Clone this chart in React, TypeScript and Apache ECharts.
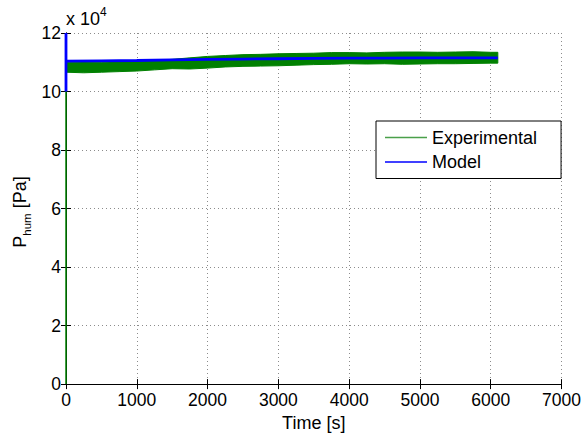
import React, { useEffect, useRef } from "react";
import * as echarts from "echarts";

// Time axis ticks [s]
const timeTicks = [0, 1000, 2000, 3000, 4000, 5000, 6000, 7000];
// Pressure ticks [x 10^4 Pa]
const pressureTicks = [0, 2, 4, 6, 8, 10, 12];

// Experimental signal envelope (x 10^4 Pa)
const expTime = [0, 250, 500, 750, 1000, 1250, 1500, 1750, 2000, 2250, 2500, 2750, 3000, 3250, 3500, 3750, 4000, 4250, 4500, 4750, 5000, 5250, 5500, 5750, 6000, 6100];
const expLow = [10.66, 10.64, 10.66, 10.68, 10.70, 10.74, 10.78, 10.77, 10.80, 10.84, 10.86, 10.87, 10.88, 10.90, 10.92, 10.93, 10.95, 10.94, 10.95, 10.93, 10.94, 10.95, 10.95, 10.96, 10.97, 10.97];
const expHigh = [11.00, 11.01, 11.00, 11.02, 11.03, 11.06, 11.10, 11.15, 11.20, 11.23, 11.26, 11.27, 11.29, 11.30, 11.31, 11.33, 11.33, 11.32, 11.34, 11.35, 11.35, 11.34, 11.35, 11.36, 11.34, 11.34];
// Experimental start-up from 0 Pa at t = 0
const expStartTime = [0, 0];
const expStartValue = [0, 10.8];

// Model output (x 10^4 Pa)
const modelTime = [0, 0, 0, 500, 1000, 1500, 2000, 2500, 3000, 3500, 4000, 4500, 5000, 5500, 6100];
const modelValue = [10.0, 12.0, 11.04, 11.05, 11.06, 11.08, 11.10, 11.11, 11.12, 11.13, 11.14, 11.14, 11.15, 11.15, 11.15];

const FONT = "'Liberation Sans', Arial, Helvetica, sans-serif";

export default function App() {
  const ref = useRef<HTMLDivElement>(null);

  useEffect(() => {
    if (!ref.current) return;
    const chart = echarts.init(ref.current, undefined, { renderer: "svg" });

    const bandData = expTime.map((t, i) => [t, expLow[i], expHigh[i]]);

    const gridLine = { show: true, lineStyle: { color: "#8c8c8c", type: [1, 3] as any, width: 1 } };
    const axisLine = { show: true, lineStyle: { color: "#000", width: 1 } };
    const tick = { show: true, inside: true, length: 5, lineStyle: { color: "#000" } };

    chart.setOption({
      animation: false,
      backgroundColor: "#fff",
      textStyle: { fontFamily: FONT },
      grid: { left: 66, top: 33, right: 21, bottom: 50, containLabel: false },
      xAxis: [
        {
          type: "value",
          min: timeTicks[0],
          max: timeTicks[timeTicks.length - 1],
          interval: 1000,
          axisLine,
          axisTick: tick,
          splitLine: gridLine,
          axisLabel: {
            color: "#000",
            fontSize: 17.5,
            margin: 7,
            fontFamily: FONT,
            formatter: (v: number) => String(v),
          },
          name: "Time [s]",
          nameLocation: "middle",
          nameGap: 27,
          nameTextStyle: { color: "#000", fontSize: 18, fontFamily: FONT, fontWeight: "normal" },
        },
        {
          type: "value",
          position: "top",
          min: 0,
          max: 7000,
          interval: 1000,
          axisLine,
          axisTick: tick,
          splitLine: { show: false },
          axisLabel: { show: false },
        },
      ],
      yAxis: [
        {
          type: "value",
          min: pressureTicks[0],
          max: pressureTicks[pressureTicks.length - 1],
          interval: 2,
          axisLine,
          axisTick: tick,
          splitLine: gridLine,
          axisLabel: {
            color: "#000",
            fontSize: 17.5,
            margin: 5,
            fontFamily: FONT,
            formatter: (v: number) => String(v),
          },
        },
        {
          type: "value",
          position: "right",
          min: 0,
          max: 12,
          interval: 2,
          axisLine,
          axisTick: tick,
          splitLine: { show: false },
          axisLabel: { show: false },
        },
      ],
      legend: {
        orient: "vertical",
        left: 376,
        top: 121,
        backgroundColor: "#fff",
        borderColor: "#000",
        borderWidth: 1,
        padding: [6.5, 24, 6.5, 9],
        itemGap: 4.5,
        itemWidth: 42,
        itemHeight: 1.5,
        textStyle: { color: "#000", fontSize: 18, fontFamily: FONT, lineHeight: 20, fontWeight: "normal" },
        data: [
          { name: "Experimental", icon: "rect", itemStyle: { color: "#4aa04a" } },
          { name: "Model", icon: "rect", itemStyle: { color: "#0000ff" } },
        ],
      },
      graphic: [
        {
          type: "text",
          left: 66,
          top: 6,
          style: {
            text: "{a|x 10}{b|4}",
            rich: {
              a: { fontSize: 18, fontFamily: FONT, fill: "#000", verticalAlign: "bottom", lineHeight: 22 },
              b: { fontSize: 12, fontFamily: FONT, fill: "#000", verticalAlign: "top", lineHeight: 22 },
            },
          },
        },
        {
          type: "text",
          x: 22,
          y: 212,
          rotation: Math.PI / 2,
          style: {
            text: "{a|P}{b|hum}{c|[Pa]}",
            align: "center",
            verticalAlign: "middle",
            rich: {
              a: { fontSize: 18, fontFamily: FONT, fill: "#000", verticalAlign: "top", lineHeight: 22 },
              b: { fontSize: 11.5, fontFamily: FONT, fill: "#000", verticalAlign: "bottom", lineHeight: 22 },
              c: { fontSize: 18, fontFamily: FONT, fill: "#000", verticalAlign: "top", lineHeight: 22, padding: [0, 0, 0, 5] },
            },
          },
        },
      ],
      series: [
        {
          name: "Experimental",
          type: "custom",
          xAxisIndex: 0,
          yAxisIndex: 0,
          silent: true,
          z: 2,
          encode: { x: 0, y: [1, 2] },
          data: bandData,
          renderItem: (params: any, api: any) => {
            if (params.dataIndex !== 0) return { type: "group", children: [] };
            const top = expTime.map((t, i) => api.coord([t, expHigh[i]]));
            const bot = expTime.map((t, i) => api.coord([t, expLow[i]])).reverse();
            return {
              type: "polygon",
              shape: { points: top.concat(bot) },
              style: { fill: "#008000", stroke: "#008000", lineWidth: 1 },
            };
          },
        },
        {
          name: "Experimental",
          type: "line",
          xAxisIndex: 0,
          yAxisIndex: 0,
          showSymbol: false,
          silent: true,
          z: 3,
          lineStyle: { color: "#008000", width: 1.5 },
          itemStyle: { color: "#008000" },
          data: expStartTime.map((t, i) => [t, expStartValue[i]]),
        },
        {
          name: "Model",
          type: "line",
          xAxisIndex: 0,
          yAxisIndex: 0,
          showSymbol: false,
          silent: true,
          z: 4,
          lineStyle: { color: "#0000ff", width: 2.8 },
          itemStyle: { color: "#0000ff" },
          data: modelTime.map((t, i) => [t, modelValue[i]]),
        },
      ],
    });

    return () => chart.dispose();
  }, []);

  return (
    <div
      ref={ref}
      style={{ position: "fixed", left: 0, top: 0, width: 584, height: 437, background: "#fff" }}
    />
  );
}
